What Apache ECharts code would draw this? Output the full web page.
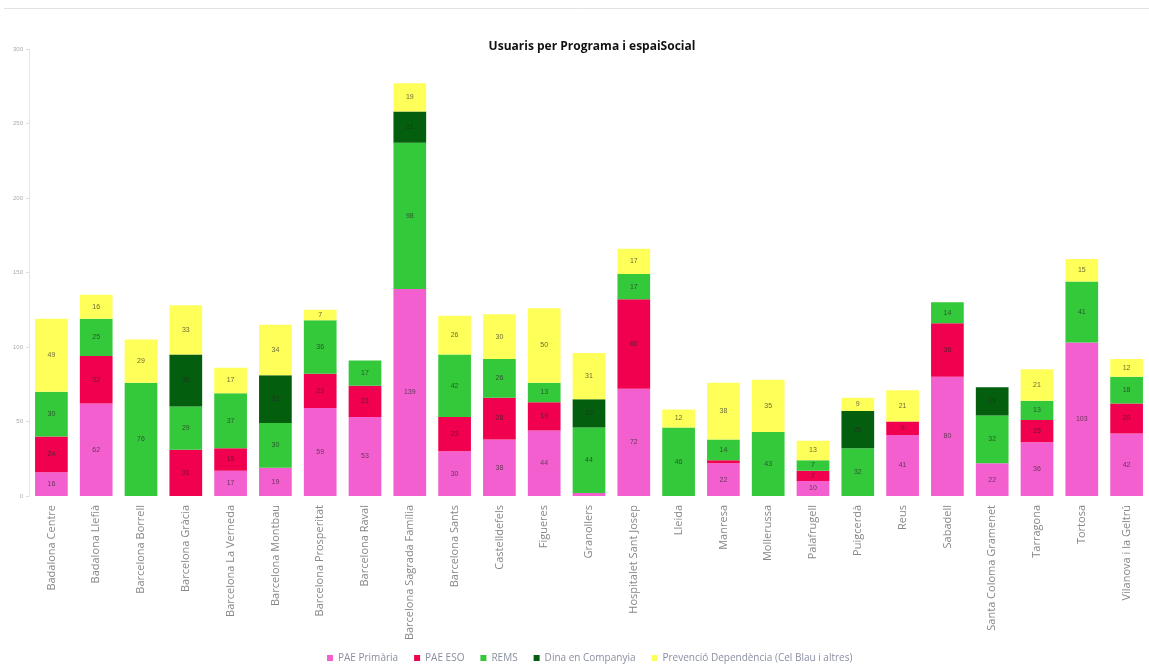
<!DOCTYPE html>
<html lang="ca">
<head>
    <meta charset="UTF-8">
    <title>Usuaris per Programa i espaiSocial</title>
    <script src="https://cdn.jsdelivr.net/npm/echarts@6/dist/echarts.min.js"></script>
    <style>
        html, body { margin: 0; padding: 0; background: #fff; }
        #chart { width: 1149px; height: 671px; }
    </style>
</head>
<body>
    <div id="chart"></div>
    <script>
        // espais socials
        var categories = ['Badalona Centre', 'Badalona Llefià', 'Barcelona Borrell', 'Barcelona Gràcia',
            'Barcelona La Verneda', 'Barcelona Montbau', 'Barcelona Prosperitat', 'Barcelona Raval',
            'Barcelona Sagrada Família', 'Barcelona Sants', 'Castelldefels', 'Figueres', 'Granollers',
            'Hospitalet Sant Josep', 'Lleida', 'Manresa', 'Mollerussa', 'Palafrugell', 'Puigcerdà',
            'Reus', 'Sabadell', 'Santa Coloma Gramenet', 'Tarragona', 'Tortosa', 'Vilanova i la Geltrú'];

        // valors per programa (llegits del gràfic)
        var paePrimaria = [16, 62, 0, 0, 17, 19, 59, 53, 139, 30, 38, 44, 2, 72, 0, 22, 0, 10, 0, 41, 80, 22, 36, 103, 42];
        var paeEso      = [24, 32, 0, 31, 15, 0, 23, 21, 0, 23, 28, 19, 0, 60, 0, 2, 0, 7, 0, 9, 36, 0, 15, 0, 20];
        var rems        = [30, 25, 76, 29, 37, 30, 36, 17, 98, 42, 26, 13, 44, 17, 46, 14, 43, 7, 32, 0, 14, 32, 13, 41, 18];
        var dina        = [0, 0, 0, 35, 0, 32, 0, 0, 21, 0, 0, 0, 19, 0, 0, 0, 0, 0, 25, 0, 0, 19, 0, 0, 0];
        var prevencio   = [49, 16, 29, 33, 17, 34, 7, 0, 19, 26, 30, 50, 31, 17, 12, 38, 35, 13, 9, 21, 0, 0, 21, 15, 12];

        var yTicks = [0, 50, 100, 150, 200, 250, 300];

        var chart = echarts.init(document.getElementById('chart'));

        function serie(name, data, color) {
            return {
                name: name,
                type: 'bar',
                stack: 'total',
                barWidth: '73%',
                data: data.map(function (v) { return v === 0 ? null : v; }),
                itemStyle: { color: color },
                label: {
                    show: true,
                    position: 'inside',
                    fontSize: 7,
                    color: 'rgba(40,40,40,0.7)',
                    formatter: function (p) { return p.value >= 5 ? p.value : ''; }
                }
            };
        }

        var option = {
            animation: false,
            title: {
                text: 'Usuaris per Programa i espaiSocial',
                left: 587,
                textAlign: 'center',
                top: 36,
                textStyle: { fontFamily: 'Open Sans', fontWeight: 'bold', fontSize: 12, color: '#111' }
            },
            legend: {
                bottom: 3,
                left: 322,
                itemWidth: 6,
                itemHeight: 6,
                itemGap: 16,
                icon: 'rect',
                textStyle: { fontSize: 10, color: '#8a8fa0', fontFamily: 'Open Sans' }
            },
            grid: { left: 29, right: -3, top: 49, bottom: 175, containLabel: false },
            xAxis: {
                type: 'category',
                data: categories,
                axisLine: { show: false },
                axisTick: { show: false },
                axisLabel: { rotate: 90, interval: 0, fontSize: 11, color: '#888', margin: 9, fontFamily: 'Open Sans' }
            },
            yAxis: {
                type: 'value',
                min: yTicks[0],
                max: yTicks[yTicks.length - 1],
                interval: 50,
                splitLine: { show: false },
                axisLine: { show: true, lineStyle: { color: '#e6e6e6' } },
                axisTick: { show: true, length: 3, lineStyle: { color: '#ddd' } },
                axisLabel: { fontSize: 6, color: '#aaa', margin: 6 }
            },
            graphic: [{
                type: 'line',
                shape: { x1: 4, y1: 8.5, x2: 1149, y2: 8.5 },
                style: { stroke: '#e2e2e2', lineWidth: 1 }
            }],
            series: [
                serie('PAE Primària', paePrimaria, '#f45fd0'),
                serie('PAE ESO', paeEso, '#f0004f'),
                serie('REMS', rems, '#33c93a'),
                serie('Dina en Companyia', dina, '#035f0d'),
                serie('Prevenció Dependència (Cel Blau i altres)', prevencio, '#ffff5a')
            ]
        };

        chart.setOption(option);
    </script>
</body>
</html>
